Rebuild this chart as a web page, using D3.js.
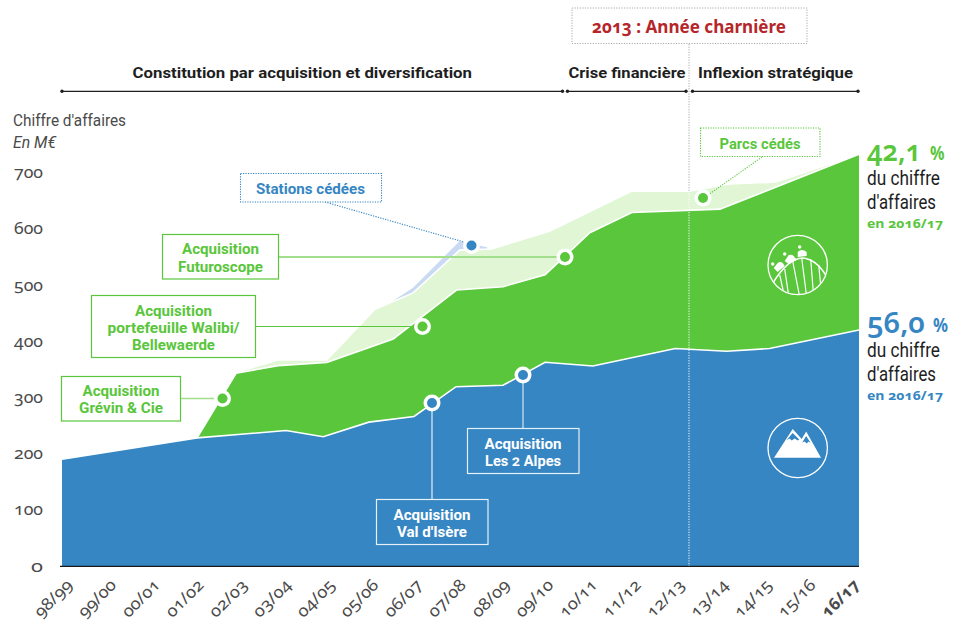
<!DOCTYPE html>
<html><head><meta charset="utf-8">
<script src="https://cdn.jsdelivr.net/npm/d3@7"></script>
<style>
html,body{margin:0;padding:0;background:#fff}
svg{display:block}
text{font-family:Roboto,sans-serif;font-variant-numeric:oldstyle-nums}
text.num{font-family:"Noto Sans",sans-serif}
</style></head><body>
<svg id="c" width="964" height="621"></svg>
<script>
const categories=["98/99","99/00","00/01","01/02","02/03","03/04","04/05","05/06","06/07","07/08","08/09","09/10","10/11","11/12","12/13","13/14","14/15","15/16","16/17"];
const yTicks=[0,100,200,300,400,500,600,700];
// vertices are not always on a tick: "at" = position along the category axis
const blueAt=[0,3.05,5.06,5.9,6.93,7.95,8.9,9.96,10.91,11.99,13.85,15.01,15.98,18];
const blueValues=[190,228,241,230,256,266,319,321.5,362.5,356,387,382,387,420];
const greenAt=[3.05,3.93,4.88,5.98,7.48,8.91,9.96,10.91,11.92,12.87,14.86,18];
const greenValues=[228,343,356.5,362,404,491,497,518,593,629,635,732.5];
const lightAt=[3.93,4.88,5.98,7.07,7.93,8.98,9.7,11.02,12.87,14.16,15.08,16.1,18];
const lightValues=[345,366.5,366.5,457,486,562,564,596,667,667,680,683,732.5];
const stationsAt=[7.4,7.93,8.98,9.6];
const stationsValues=[468,495,578,567];

const blue="#3586c3",green="#5ac63c",light="#e0f6d4",sliver="#c9daf2",red="#b5262a",ink="#1e1e1e",grey="#4a4a4a";
const svg=d3.select("#c");
const x=d3.scaleLinear().domain([0,18]).range([62,859]);
const y=d3.scaleLinear().domain([0,700]).range([566,172.6]);
const zip=(a,v)=>a.map((d,i)=>[d,v[i]]);
const area=d3.area().x(d=>x(d[0])).y0(y(0)).y1(d=>y(d[1]));
const line=d3.line().x(d=>x(d[0])).y(d=>y(d[1]));
function layer(at,vals,fill,stroke){
  const d=zip(at,vals);
  svg.append("path").attr("d",area(d)).attr("fill",fill);
  if(stroke) svg.append("path").attr("d",line(d)).attr("fill","none").attr("stroke",stroke).attr("stroke-width",1.6);
}
layer(stationsAt,stationsValues,sliver);
layer(lightAt,lightValues,light,"#fff");
layer(greenAt,greenValues,green,"#fff");
layer(blueAt,blueValues,blue,"#fff");

function T(str,o){
  const e=svg.append("text").attr("x",o.x).attr("y",o.y).text(str)
    .attr("font-size",o.s||14).attr("font-weight",o.w||400).attr("fill",o.c||ink)
    .attr("text-anchor",o.a||"start");
  if(o.i) e.attr("font-style","italic");
  if(o.num) e.attr("class","num");
  if(o.l) e.attr("textLength",o.l).attr("lengthAdjust","spacingAndGlyphs");
  return e;
}
// axes
const gy=svg.append("g").attr("transform","translate(43,0)").call(d3.axisLeft(y).tickValues(yTicks).tickSize(0).tickPadding(0));
gy.select(".domain").remove();
gy.selectAll("text").attr("font-size",17).attr("fill",grey).attr("class","num").attr("dy","0.3em")
  .attr("textLength",d=>d==0?12:29).attr("lengthAdjust","spacingAndGlyphs");
const xl=d3.scalePoint().domain(categories).range([70,857]);
const gx=svg.append("g").attr("transform","translate(0,566)").call(d3.axisBottom(xl).tickSize(0).tickPadding(0));
gx.select(".domain").remove();
gx.selectAll("text").attr("font-size",16.5).attr("fill",grey).attr("class","num")
  .attr("text-anchor","end").attr("dy",0).attr("y",0)
  .attr("transform","translate(3,20) rotate(-45)")
  .attr("textLength",46).attr("lengthAdjust","spacingAndGlyphs")
  .attr("font-weight",d=>d==="16/17"?700:400);
svg.append("line").attr("x1",60).attr("x2",859).attr("y1",566.4).attr("y2",566.4).attr("stroke","#1a1a1a").attr("stroke-width",1.2);

// 2013 marker
const x13=689;
svg.append("line").attr("x1",x13).attr("x2",x13).attr("y1",44).attr("y2",y(667)).attr("stroke","#aaa").attr("stroke-dasharray","1.2 1.4");
svg.append("line").attr("x1",x13).attr("x2",x13).attr("y1",y(667)).attr("y2",566).attr("stroke","#fff").attr("stroke-dasharray","1.2 1.4");
svg.append("rect").attr("x",572).attr("y",8).attr("width",235).attr("height",35.5).attr("fill","#fff").attr("stroke","#aaa").attr("stroke-dasharray","1.2 1.4");
T("2013 : Année charnière",{x:592,y:33,s:18.5,w:700,c:red,l:194,num:1});

// period brackets
[[62,562.5,"Constitution par acquisition et diversification",132.5,339.5],[567.5,686,"Crise financière",568.5,117],[692.5,858,"Inflexion stratégique",698,155]].forEach(p=>{
  svg.append("line").attr("x1",p[0]).attr("x2",p[1]).attr("y1",91.3).attr("y2",91.3).attr("stroke",ink).attr("stroke-width",1.2);
  [p[0],p[1]].forEach(c=>svg.append("circle").attr("cx",c).attr("cy",91.3).attr("r",1.7).attr("fill",ink));
  T(p[2],{x:p[3],y:78,s:15,w:700,l:p[4]});
});
T("Chiffre d'affaires",{x:13,y:125.5,s:16,c:grey,l:113});
T("En M€",{x:13,y:148,s:16,i:1,c:grey,l:43});

// callouts
function box(x0,x1,y0,y1,c,dotted,fill){
  const r=svg.append("rect").attr("x",x0).attr("y",y0).attr("width",x1-x0).attr("height",y1-y0)
    .attr("fill",fill||"#fff").attr("stroke",c).attr("stroke-width",dotted?1.1:1.2);
  if(dotted) r.attr("stroke-dasharray","1.2 1.3");
}
function leader(a,b,c,d,col,w,dotted){
  const l=svg.append("line").attr("x1",a).attr("y1",b).attr("x2",c).attr("y2",d).attr("stroke",col).attr("stroke-width",w);
  if(dotted) l.attr("stroke-dasharray","1.2 1.3");
}
function marker(cx,cy,fill){
  svg.append("circle").attr("cx",cx).attr("cy",cy).attr("r",8.5).attr("fill","#fff");
  svg.append("circle").attr("cx",cx).attr("cy",cy).attr("r",5).attr("fill",fill);
}
leader(278,257,565,257,"#a2df8d",2);
leader(255,326.5,422,326.5,green,1.2);
leader(180,398.5,222,398.5,"#a2df8d",1.4);
leader(432,403,432,499,"#d6e7f3",1.3);
leader(523,375,523,428,"#a9cde6",1.6);
leader(325,202,464,242,blue,1.1,1);
leader(762,157,708,195,green,1.1,1);

const F=14.5;
box(162.5,278.5,234.5,279,green);
T("Acquisition",{x:220.5,y:254,s:F,w:700,c:green,a:"middle",l:77});
T("Futuroscope",{x:220.5,y:271.5,s:F,w:700,c:green,a:"middle",l:85});
box(91.5,255.5,295.5,357.5,green);
T("Acquisition",{x:173.5,y:315.5,s:F,w:700,c:green,a:"middle",l:77});
T("portefeuille Walibi/",{x:173.5,y:333,s:F,w:700,c:green,a:"middle",l:132});
T("Bellewaerde",{x:173.5,y:350,s:F,w:700,c:green,a:"middle",l:83});
box(61.5,180.5,376.5,421,green);
T("Acquisition",{x:121,y:396,s:F,w:700,c:green,a:"middle",l:77});
T("Grévin & Cie",{x:121,y:413,s:F,w:700,c:green,a:"middle",l:84});
box(376.5,488,499.5,544.5,"#e6f0f8",0,blue);
T("Acquisition",{x:432,y:520,s:F,w:700,c:"#fff",a:"middle",l:77});
T("Val d'Isère",{x:432,y:537,s:F,w:700,c:"#fff",a:"middle",l:70});
box(467.5,579,428.5,473.5,"#e6f0f8",0,blue);
T("Acquisition",{x:523,y:448.5,s:F,w:700,c:"#fff",a:"middle",l:77});
T("Les 2 Alpes",{x:523,y:465.5,s:F,w:700,c:"#fff",a:"middle",l:76});
box(240.5,381.5,173.5,202,blue,1);
T("Stations cédées",{x:310.5,y:194,s:F,w:700,c:blue,a:"middle",l:109});
box(700.5,820,128,156.5,green,1);
T("Parcs cédés",{x:760,y:149,s:F,w:700,c:green,a:"middle",l:81});

marker(222.5,398.5,green);
marker(422.5,326.5,green);
marker(565,257,green);
marker(432,403,blue);
marker(523,375,blue);
marker(703,198,green);
marker(471.5,245.5,blue);

// side figures
function side(b,c,val,lv,px,pl){
  T(val,{x:867,y:b,s:29,w:600,c:c,l:lv,num:1});
  T("%",{x:px,y:b-1,s:19,w:700,c:c,l:pl,num:1});
  T("du chiffre",{x:867,y:b+24,s:19.5,c:ink,l:73});
  T("d'affaires",{x:867,y:b+48,s:19.5,c:ink,l:69});
  T("en 2016/17",{x:867,y:b+67,s:13.2,w:700,c:c,l:76,num:1});
}
side(161,green,"42,1",54,930,14.5);
side(333,blue,"56,0",58,933,15);

// icons
const coaster=svg.append("g").attr("transform","translate(797.7,265)");
svg.append("clipPath").attr("id","cc").append("circle").attr("r",29.2);
coaster.append("circle").attr("r",29.7).attr("fill","none").attr("stroke","#fff").attr("stroke-width",1.3);
const rail=coaster.append("g").attr("clip-path","url(#cc)");
rail.append("path").attr("d","M-26,20 Q-10,-7 5,-7 Q18,-6 28,10").attr("fill","none").attr("stroke","#fff").attr("stroke-width",1.6);
[[-18,10,-14,28],[-13,4,-9,31],[-5,-4,2,32],[4,-7,9,32],[13,-6,16,32],[21,0,24,30]].forEach(s=>
  rail.append("line").attr("x1",s[0]).attr("y1",s[1]).attr("x2",s[2]).attr("y2",s[3]).attr("stroke","#fff").attr("stroke-width",1.2));
coaster.append("path").attr("d","M-24,3 L-20,-2 Q-17,-4 -15,-2 L-13,1 L-20,7 Z").attr("fill","#fff");
coaster.append("path").attr("d","M-13,-4 L-9,-10 Q-6,-11 -4,-9 L-1,-5 L-9,-1 Z").attr("fill","#fff");
coaster.append("path").attr("d","M0,-8 L0,-13 Q4,-17 9,-13 L9,-9 Z").attr("fill","#fff");
[[-25,-1],[-13,-11],[2,-18]].forEach(p=>coaster.append("circle").attr("cx",p[0]).attr("cy",p[1]).attr("r",1.7).attr("fill","#fff"));

const mount=svg.append("g").attr("transform","translate(797.7,448)");
mount.append("circle").attr("r",29.7).attr("fill","none").attr("stroke","#fff").attr("stroke-width",1.3);
mount.append("path").attr("d","M-23.7,9.7 L-5,-19 L4,-9 L8.5,-16.5 L23.3,9.7 Z").attr("fill","#fff");
mount.append("path").attr("d","M-5,-15 L-11,-8 L-8,-9.5 L-6,-7.5 L-3,-9.5 L0,-7.5 L1.5,-8.5 Z").attr("fill",blue);
mount.append("path").attr("d","M8.5,-12 L4.5,-5.5 L7,-6.5 L9,-4.5 L11,-6.5 L13,-5 Z").attr("fill",blue);
</script>
</body></html>
